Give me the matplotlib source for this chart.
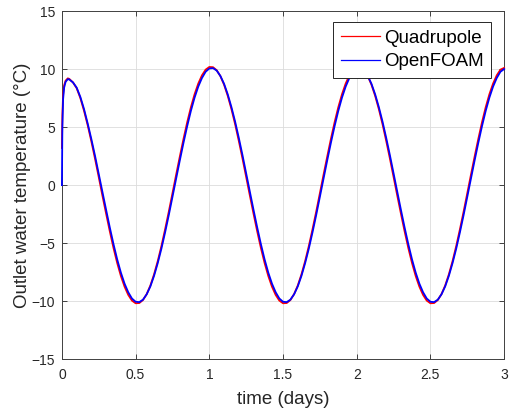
import matplotlib
matplotlib.use("Agg")
import matplotlib.pyplot as plt

# time axis (days): dense at the start transient, then every 0.025 day
time_days = [0.0, 0.003, 0.008, 0.015, 0.025, 0.04,
             0.05, 0.075, 0.1, 0.125, 0.15, 0.175, 0.2, 0.225, 0.25, 0.275,
             0.3, 0.325, 0.35, 0.375, 0.4, 0.425, 0.45, 0.475, 0.5, 0.525,
             0.55, 0.575, 0.6, 0.625, 0.65, 0.675, 0.7, 0.725, 0.75, 0.775,
             0.8, 0.825, 0.85, 0.875, 0.9, 0.925, 0.95, 0.975, 1.0,
             1.025, 1.05, 1.075, 1.1, 1.125, 1.15, 1.175, 1.2, 1.225, 1.25,
             1.275, 1.3, 1.325, 1.35, 1.375, 1.4, 1.425, 1.45, 1.475, 1.5,
             1.525, 1.55, 1.575, 1.6, 1.625, 1.65, 1.675, 1.7, 1.725, 1.75,
             1.775, 1.8, 1.825, 1.85, 1.875, 1.9, 1.925, 1.95, 1.975, 2.0,
             2.025, 2.05, 2.075, 2.1, 2.125, 2.15, 2.175, 2.2, 2.225, 2.25,
             2.275, 2.3, 2.325, 2.35, 2.375, 2.4, 2.425, 2.45, 2.475, 2.5,
             2.525, 2.55, 2.575, 2.6, 2.625, 2.65, 2.675, 2.7, 2.725, 2.75,
             2.775, 2.8, 2.825, 2.85, 2.875, 2.9, 2.925, 2.95, 2.975, 3.0]

# outlet water temperature (degC), Quadrupole model
quadrupole = [3.2, 6.0, 7.8, 8.6, 9.0, 9.2,
              9.15, 8.85, 8.35, 7.5, 6.4, 5.15, 3.75, 2.25, 0.68, -0.92,
              -2.47, -3.99, -5.42, -6.71, -7.83, -8.75, -9.46, -9.95, -10.18, -10.16,
              -9.90, -9.39, -8.65, -7.69, -6.55, -5.25, -3.81, -2.29, -0.70, 0.90,
              2.47, 3.99, 5.42, 6.71, 7.83, 8.75, 9.46, 9.95, 10.18,
              10.16, 9.90, 9.39, 8.65, 7.69, 6.55, 5.25, 3.81, 2.29, 0.70,
              -0.90, -2.47, -3.99, -5.42, -6.71, -7.83, -8.75, -9.46, -9.95, -10.18,
              -10.16, -9.90, -9.39, -8.65, -7.69, -6.55, -5.25, -3.81, -2.29, -0.70,
              0.90, 2.47, 3.99, 5.42, 6.71, 7.83, 8.75, 9.46, 9.95, 10.18,
              10.16, 9.90, 9.39, 8.65, 7.69, 6.55, 5.25, 3.81, 2.29, 0.70,
              -0.90, -2.47, -3.99, -5.42, -6.71, -7.83, -8.75, -9.46, -9.95, -10.18,
              -10.16, -9.90, -9.39, -8.65, -7.69, -6.55, -5.25, -3.81, -2.29, -0.70,
              0.90, 2.47, 3.99, 5.42, 6.71, 7.83, 8.75, 9.46, 9.95, 10.1]

# outlet water temperature (degC), OpenFOAM simulation
openfoam = [0.0, 5.0, 7.4, 8.4, 8.9, 9.13,
            9.1, 8.85, 8.4, 7.6, 6.55, 5.3, 3.95, 2.5, 0.95, -0.6,
            -2.14, -3.66, -5.09, -6.40, -7.54, -8.49, -9.23, -9.77, -10.05, -10.08,
            -9.87, -9.41, -8.73, -7.82, -6.72, -5.47, -4.07, -2.58, -1.01, 0.57,
            2.14, 3.66, 5.09, 6.40, 7.54, 8.49, 9.23, 9.77, 10.05,
            10.08, 9.87, 9.41, 8.73, 7.82, 6.72, 5.47, 4.07, 2.58, 1.01,
            -0.57, -2.14, -3.66, -5.09, -6.40, -7.54, -8.49, -9.23, -9.77, -10.05,
            -10.08, -9.87, -9.41, -8.73, -7.82, -6.72, -5.47, -4.07, -2.58, -1.01,
            0.57, 2.14, 3.66, 5.09, 6.40, 7.54, 8.49, 9.23, 9.77, 10.05,
            10.08, 9.87, 9.41, 8.73, 7.82, 6.72, 5.47, 4.07, 2.58, 1.01,
            -0.57, -2.14, -3.66, -5.09, -6.40, -7.54, -8.49, -9.23, -9.77, -10.05,
            -10.08, -9.87, -9.41, -8.73, -7.82, -6.72, -5.47, -4.07, -2.58, -1.01,
            0.57, 2.14, 3.66, 5.09, 6.40, 7.54, 8.49, 9.23, 9.77, 10.0]

xticks = [0, 0.5, 1, 1.5, 2, 2.5, 3]
yticks = [-15, -10, -5, 0, 5, 10, 15]

plt.rcParams['font.family'] = ['Liberation Sans', 'DejaVu Sans']
txt = "#262626"

fig = plt.figure(figsize=(5.16, 4.16), dpi=100)
ax = fig.add_axes([0.120, 0.1365, 0.857, 0.837])

ax.plot(time_days, quadrupole, color="#ff0000", lw=1.3, label="Quadrupole", clip_on=False)
ax.plot(time_days, openfoam, color="#0000ff", lw=1.3, label="OpenFOAM", clip_on=False)

ax.set_xlim(0, 3)
ax.set_ylim(-15, 15)
ax.set_xticks(xticks)
ax.set_xticklabels(["0", "0.5", "1", "1.5", "2", "2.5", "3"])
ax.set_yticks(yticks)

ax.grid(True, color="#dcdcdc", lw=0.6)
ax.set_axisbelow(True)
ax.tick_params(direction="in", top=True, right=True, length=3.5, width=0.6,
               color=txt, labelcolor=txt, labelsize=10)
ax.tick_params(axis="x", pad=6)
ax.tick_params(axis="y", pad=5)
for s in ax.spines.values():
    s.set_color("#404040")
    s.set_linewidth(0.7)
    s.set_zorder(1)

ax.set_xlabel("time (days)", fontsize=13.5, color=txt, labelpad=7)
ax.set_ylabel("Outlet water temperature (°C)", fontsize=13.5, color=txt, labelpad=0)

leg = ax.legend(loc="upper right", bbox_to_anchor=(0.97, 0.968), fontsize=13.5,
                fancybox=False, framealpha=1, edgecolor="#262626",
                handlelength=2.1, handletextpad=0.2, borderpad=0.4,
                labelspacing=0.35, borderaxespad=0)
leg.get_frame().set_linewidth(0.7)
for h in leg.get_lines():
    h.set_linewidth(0.9)

fig.savefig("out.png", dpi=100)
